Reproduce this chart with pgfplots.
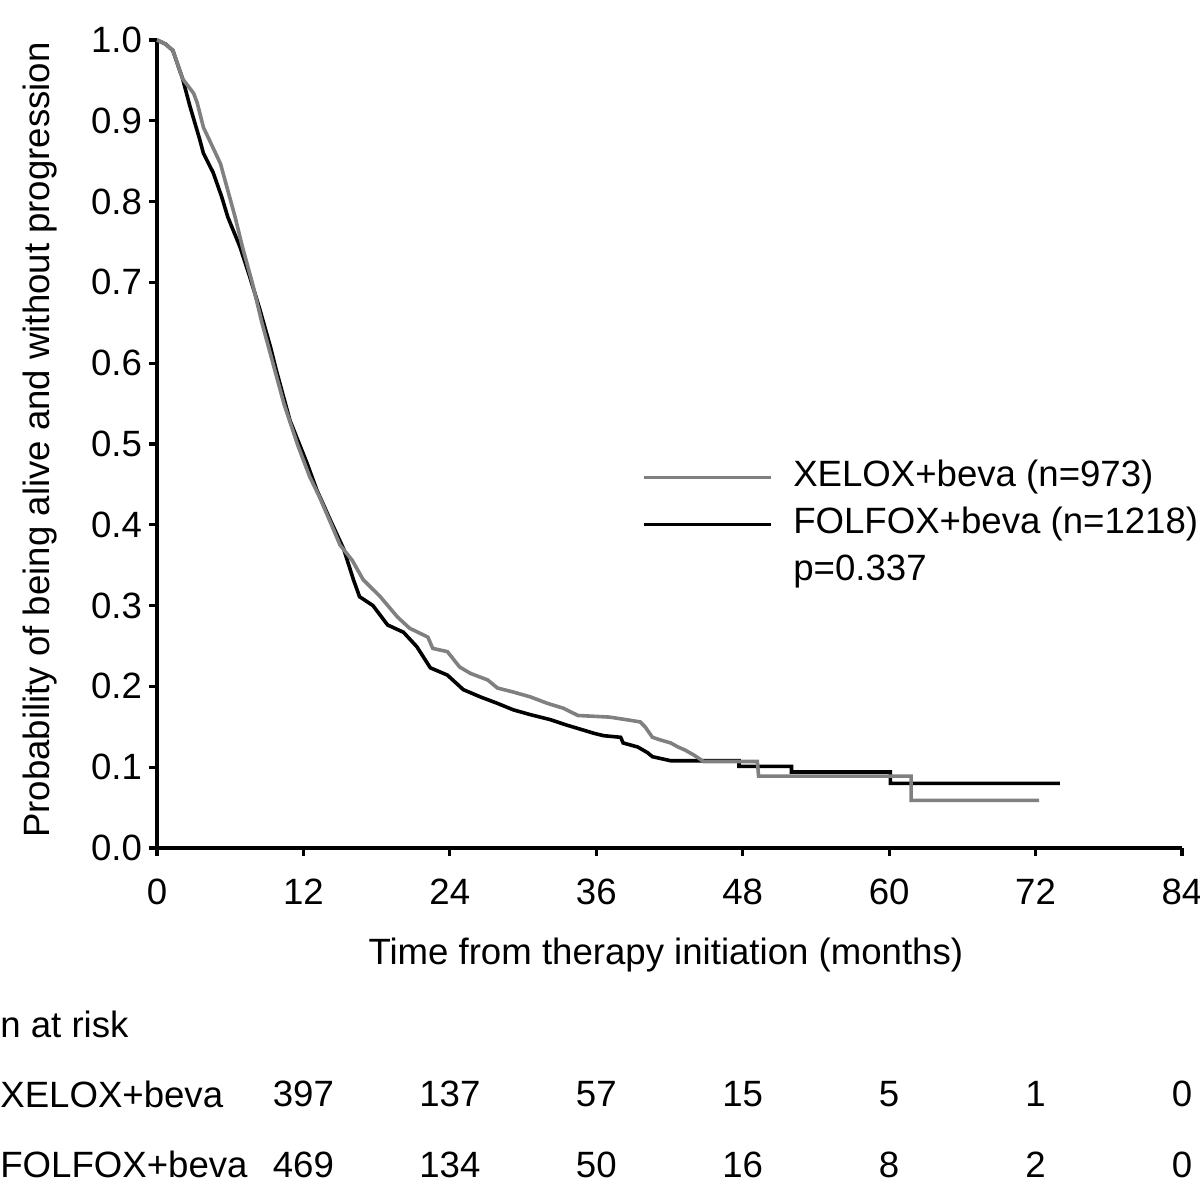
\documentclass[border=0pt]{standalone}
\usepackage{fontspec}
\setmainfont{Liberation Sans}
\usepackage{pgfplots}
\pgfplotsset{compat=1.18}
\definecolor{kmgray}{RGB}{128,128,128}
\begin{document}
\begin{tikzpicture}[font=\fontsize{18.3}{22}\selectfont]
\useasboundingbox (-78.5pt,-172.5pt) rectangle (521.5pt,424pt);
\begin{axis}[
  at={(0,0)}, anchor=south west,
  scale only axis, width=512.5pt, height=404pt,
  xmin=0, xmax=84, ymin=0, ymax=1,
  axis lines=left, axis line style={-, line width=1.6pt},
  xtick={0,12,24,36,48,60,72,84},
  ytick={0,0.1,0.2,0.3,0.4,0.5,0.6,0.7,0.8,0.9,1.0},
  tick align=outside, major tick length=4pt,
  tick style={line width=1.6pt, black},
  /pgf/number format/assume math mode=true,
  yticklabel style={/pgf/number format/fixed, /pgf/number format/fixed zerofill, /pgf/number format/precision=1},
  xticklabel style={yshift=-8pt},
  ticklabel style={font=\fontsize{18.3}{22}\selectfont},
  clip=false,
  legend style={draw=none, fill=none, at={(axis cs:39.69,0.485)}, anchor=north west,
    font=\fontsize{18.3}{22}\selectfont, row sep=2.5pt, inner sep=0pt,
    nodes={inner sep=2pt, text height=13pt, text depth=4pt}},
  legend cell align=left,
  legend image code/.code={\draw[#1] (0pt,0pt) -- (63.5pt,0pt); \path (72pt,0pt);},
]
\addlegendimage{kmgray, line width=1.8pt}
\addlegendentry{XELOX+beva (n=973)}
\addlegendimage{black, line width=1.8pt}
\addlegendentry{FOLFOX+beva (n=1218)}
\addlegendimage{white, draw opacity=0, line width=1.8pt}
\addlegendentry{p=0.337}

% FOLFOX+beva (black)
\addplot[black, line width=1.8pt, forget plot] coordinates {
(0,1.0) (0.7,0.995) (1.3,0.987) (2.1,0.952) (2.7,0.918) (3.5,0.877) (3.8,0.86)
(4.6,0.836) (5.3,0.806) (5.8,0.781) (6.8,0.744) (7.6,0.707) (8.4,0.668)
(9.3,0.62) (9.8,0.59) (10.9,0.529) (12.3,0.476) (13.1,0.443) (14.2,0.406) (15.3,0.37)
(16.1,0.332) (16.6,0.311) (17.7,0.30) (18.9,0.276) (20.2,0.267) (21.3,0.249)
(22.4,0.223) (23.8,0.214) (25.1,0.196) (26.5,0.187) (27.9,0.179) (29.2,0.171)
(30.6,0.165) (32.2,0.159) (33.6,0.152) (35.8,0.142) (36.6,0.139) (38.0,0.137)
(38.2,0.130) (39.4,0.125) (40.2,0.118) (40.6,0.113) (42.1,0.108)
(47.7,0.108) (47.7,0.101) (52.0,0.101) (52.0,0.094) (60.1,0.094) (60.1,0.080) (74.0,0.080)
};
% XELOX+beva (gray)
\addplot[kmgray, line width=1.8pt, forget plot] coordinates {
(0,1.0) (0.7,0.995) (1.3,0.987) (2.1,0.952) (3.0,0.934) (3.3,0.922) (3.8,0.892)
(4.3,0.876) (5.2,0.847) (6.4,0.781) (7.0,0.744) (7.8,0.70) (8.6,0.65)
(9.5,0.60) (10.4,0.55) (11.5,0.50) (12.5,0.46) (13.3,0.435) (14.3,0.40)
(15.0,0.375) (16.0,0.356) (16.9,0.332) (18.3,0.311) (19.7,0.286) (20.7,0.272)
(22.2,0.261) (22.6,0.247) (23.8,0.243) (24.8,0.224) (25.7,0.216) (27.1,0.208)
(27.9,0.198) (29.2,0.193) (30.6,0.187) (32.0,0.179) (33.3,0.173) (34.5,0.164)
(37.1,0.162) (38.8,0.158) (39.6,0.156) (40.0,0.150) (40.6,0.137) (41.2,0.134)
(42.1,0.130) (42.7,0.125) (43.3,0.121) (44.0,0.115) (44.8,0.107)
(49.2,0.107) (49.3,0.089) (61.8,0.089) (61.8,0.059) (72.3,0.059)
};

\node[rotate=90] at (axis cs:-9.59,0.505) {Probability of being alive and without progression};
\node at (axis cs:41.7,-0.1324) {Time from therapy initiation (months)};
\node[anchor=west, inner sep=0pt] at (axis cs:-12.87,-0.2178) {n at risk};
\node[anchor=west, inner sep=0pt] at (axis cs:-12.87,-0.3045) {XELOX+beva};
\node[anchor=west, inner sep=0pt] at (axis cs:-12.87,-0.392) {FOLFOX+beva};
\node at (axis cs:12,-0.3045) {397};
\node at (axis cs:24,-0.3045) {137};
\node at (axis cs:36,-0.3045) {57};
\node at (axis cs:48,-0.3045) {15};
\node at (axis cs:60,-0.3045) {5};
\node at (axis cs:72,-0.3045) {1};
\node at (axis cs:84,-0.3045) {0};
\node at (axis cs:12,-0.392) {469};
\node at (axis cs:24,-0.392) {134};
\node at (axis cs:36,-0.392) {50};
\node at (axis cs:48,-0.392) {16};
\node at (axis cs:60,-0.392) {8};
\node at (axis cs:72,-0.392) {2};
\node at (axis cs:84,-0.392) {0};
\end{axis}
\end{tikzpicture}
\end{document}
